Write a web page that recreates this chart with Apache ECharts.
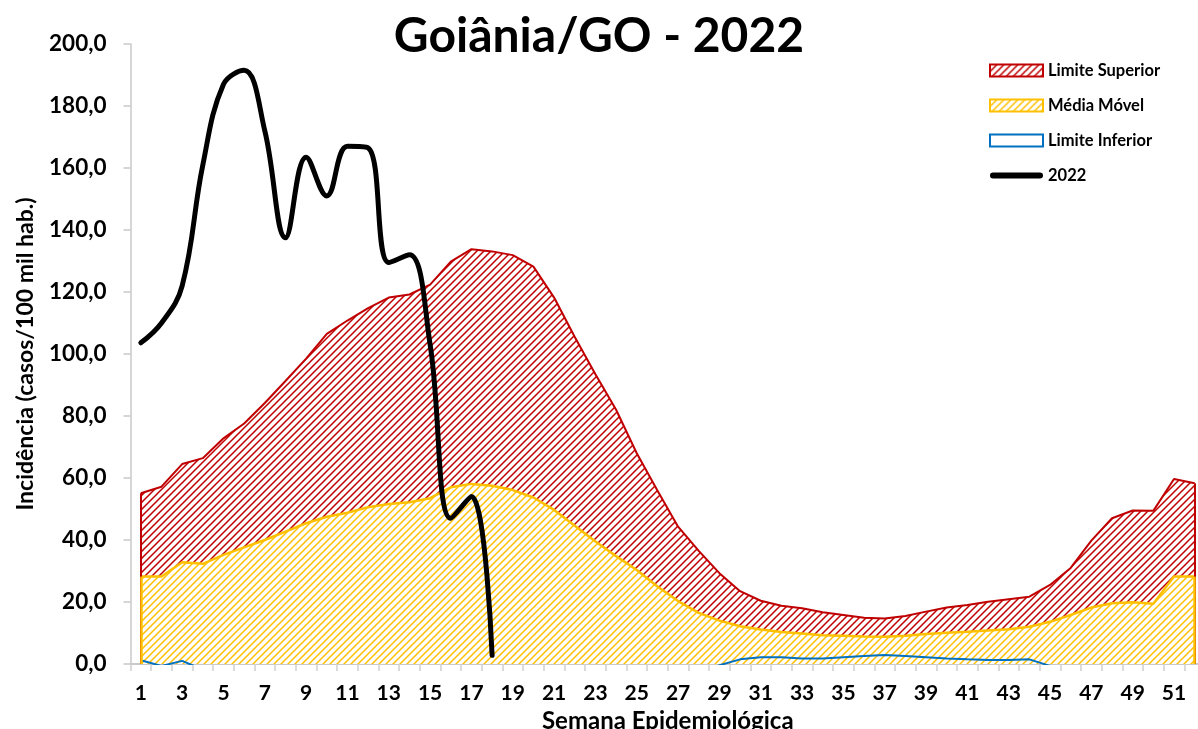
<!DOCTYPE html>
<html>
<head>
<meta charset="utf-8">
<title>Goiânia/GO - 2022</title>
<script src="https://cdn.jsdelivr.net/npm/echarts@6/dist/echarts.min.js"></script>
<style>
  html, body { margin: 0; padding: 0; background: #fff; }
  #chart { width: 1198px; height: 729px; }
</style>
</head>
<body>
<div id="chart"></div>
<script>
// semanas epidemiologicas
var semanas = [];
for (var i = 1; i <= 52; i++) semanas.push(String(i));

var limiteSuperior = [55.1, 57.2, 64.5, 66.4, 72.8, 77.6, 84.2, 91.3, 98.5, 106.5,
  110.8, 114.8, 118.2, 119.2, 122.4, 129.8, 133.8, 133.1, 131.9, 128.2,
  118.2, 105.5, 93.5, 82.0, 68.0, 56.0, 44.3, 36.5, 29.3, 23.5,
  20.4, 18.8, 18.0, 16.7, 15.8, 14.9, 14.7, 15.5, 16.9, 18.2,
  19.0, 20.1, 20.9, 21.7, 25.5, 31.0, 39.8, 47.0, 49.5, 49.4,
  59.7, 58.3];

var mediaMovel = [28.2, 28.2, 32.8, 32.3, 35.2, 37.6, 40.0, 42.7, 45.4, 47.5,
  48.8, 50.6, 51.6, 52.2, 53.5, 57.0, 58.1, 57.5, 56.1, 53.7,
  49.7, 44.6, 39.5, 34.8, 30.3, 25.0, 20.3, 16.5, 14.0, 12.2,
  11.1, 10.3, 9.8, 9.3, 9.1, 8.9, 8.8, 9.1, 9.7, 10.1,
  10.4, 10.8, 11.2, 12.0, 13.6, 15.8, 18.2, 19.6, 19.9, 19.4,
  28.2, 28.2];

var limiteInferior = [1.2, -0.6, 1.0, -1.8, -2.4, -2.4, -4.2, -5.9, -7.7, -11.5,
  -13.2, -13.6, -15.0, -14.8, -15.4, -15.8, -17.6, -18.1, -19.7, -20.8,
  -18.8, -16.3, -14.5, -12.4, -7.4, -6.0, -3.7, -3.5, -0.4, 1.5,
  2.2, 2.2, 1.8, 1.8, 2.2, 2.6, 2.9, 2.6, 2.2, 1.8,
  1.5, 1.3, 1.3, 1.5, -0.6, -1.5, -3.4, -7.8, -9.7, -10.6,
  -3.3, -1.9];

var ano2022 = [103.6, 110.0, 122.0, 161.0, 187.0, 191.5, 172.0, 137.5, 163.5, 151.0,
  167.0, 166.5, 129.5, 132.0, 103.0, 47.0, 54.0, 2.8];

var yTicks = { min: 0, max: 200, step: 20 };

var VERMELHO = '#C00000';
var LARANJA = '#FFC000';
var AZUL = '#0070C0';
var fonte = 'Lato, "Liberation Sans", Arial, sans-serif';

// hachura diagonal "/" sobre fundo branco
function hachura(cor, tam, esp) {
  var c = document.createElement('canvas');
  c.width = tam; c.height = tam;
  var g = c.getContext('2d');
  g.fillStyle = '#ffffff';
  g.fillRect(0, 0, tam, tam);
  g.strokeStyle = cor;
  g.lineWidth = esp;
  g.beginPath();
  g.moveTo(-tam, tam); g.lineTo(tam, -tam);
  g.moveTo(0, tam); g.lineTo(tam, 0);
  g.moveTo(0, 2 * tam); g.lineTo(2 * tam, 0);
  g.stroke();
  return c;
}

var padraoVermelho = { image: hachura(VERMELHO, 7, 1.5), repeat: 'repeat' };
var padraoLaranja = { image: hachura(LARANJA, 7, 1.5), repeat: 'repeat' };

function bordaLateral(valores, cor, largura) {
  var ult = valores.length - 1;
  return {
    silent: true,
    symbol: 'none',
    label: { show: false },
    lineStyle: { color: cor, width: largura, type: 'solid' },
    data: [
      [{ coord: [semanas[0], 0] }, { coord: [semanas[0], valores[0]] }],
      [{ coord: [semanas[ult], 0] }, { coord: [semanas[ult], valores[ult]] }]
    ]
  };
}

var chart = echarts.init(document.getElementById('chart'));

chart.setOption({
  animation: false,
  textStyle: { fontFamily: fonte },
  title: {
    text: 'Goiânia/GO - 2022',
    left: 'center',
    top: 8,
    textStyle: { fontSize: 48, fontWeight: 'bold', color: '#000', fontFamily: fonte }
  },
  legend: {
    orient: 'vertical',
    left: 984,
    top: 57,
    itemWidth: 53,
    itemHeight: 12,
    itemGap: 18,
    textStyle: { fontSize: 16.5, fontWeight: 'bold', color: '#000', fontFamily: fonte },
    data: [
      { name: 'Limite Superior', icon: 'rect',
        itemStyle: { color: padraoVermelho, borderColor: VERMELHO, borderWidth: 2 } },
      { name: 'Média Móvel', icon: 'rect',
        itemStyle: { color: padraoLaranja, borderColor: LARANJA, borderWidth: 2 } },
      { name: 'Limite Inferior', icon: 'rect',
        itemStyle: { color: '#fff', borderColor: AZUL, borderWidth: 2 } },
      { name: '2022', icon: 'path://M3,0H49A3,3 0 0 1 49,6H3A3,3 0 0 1 3,0Z',
        itemStyle: { color: '#000', borderWidth: 0 } }
    ]
  },
  grid: { left: 130.5, right: -7, top: 44, bottom: 65, containLabel: false, outerBoundsMode: 'none' },
  xAxis: {
    type: 'category',
    data: semanas,
    boundaryGap: true,
    name: 'Semana Epidemiológica',
    nameLocation: 'middle',
    nameGap: 43,
    nameTextStyle: { fontSize: 24, fontWeight: 'bold', color: '#000', fontFamily: fonte },
    axisLine: { lineStyle: { color: '#C9C9C9', width: 2 } },
    axisTick: { show: true, interval: 0, length: 7, lineStyle: { color: '#D0D0D0', width: 1.5 } },
    axisLabel: { interval: 1, fontSize: 21, fontWeight: 'bold', color: '#000', margin: 19, fontFamily: fonte },
    splitLine: { show: false }
  },
  yAxis: {
    type: 'value',
    min: yTicks.min,
    max: yTicks.max,
    interval: yTicks.step,
    name: 'Incidência (casos/100 mil hab.)',
    nameLocation: 'middle',
    nameRotate: 90,
    nameGap: 93,
    nameTextStyle: { fontSize: 23, fontWeight: 'bold', color: '#000', fontFamily: fonte },
    axisLine: { show: true, lineStyle: { color: '#C9C9C9', width: 1.5 } },
    axisTick: { show: true, length: 7, lineStyle: { color: '#C9C9C9', width: 1.5 } },
    axisLabel: {
      fontSize: 22.5, fontWeight: 'bold', color: '#000', margin: 24, fontFamily: fonte,
      formatter: function (v) { return v.toFixed(1).replace('.', ','); }
    },
    splitLine: { show: false }
  },
  series: [
    {
      name: 'Limite Superior',
      type: 'line',
      data: limiteSuperior,
      symbol: 'none',
      z: 1,
      lineStyle: { color: VERMELHO, width: 2 },
      itemStyle: { color: VERMELHO },
      areaStyle: { color: padraoVermelho, opacity: 1 },
      markLine: bordaLateral(limiteSuperior, VERMELHO, 2)
    },
    {
      name: 'Média Móvel',
      type: 'line',
      data: mediaMovel,
      symbol: 'none',
      z: 2,
      lineStyle: { color: LARANJA, width: 2.5 },
      itemStyle: { color: LARANJA },
      areaStyle: { color: padraoLaranja, opacity: 1 },
      markLine: bordaLateral(mediaMovel, LARANJA, 2.5)
    },
    {
      name: 'Limite Inferior',
      type: 'line',
      data: limiteInferior,
      symbol: 'none',
      z: 3,
      clip: true,
      lineStyle: { color: AZUL, width: 2 },
      itemStyle: { color: AZUL }
    },
    {
      name: '2022',
      type: 'line',
      data: ano2022,
      symbol: 'none',
      smooth: 0.4,
      z: 4,
      lineStyle: { color: '#000', width: 5, cap: 'round', join: 'round' },
      itemStyle: { color: '#000' }
    }
  ]
});
</script>
</body>
</html>
